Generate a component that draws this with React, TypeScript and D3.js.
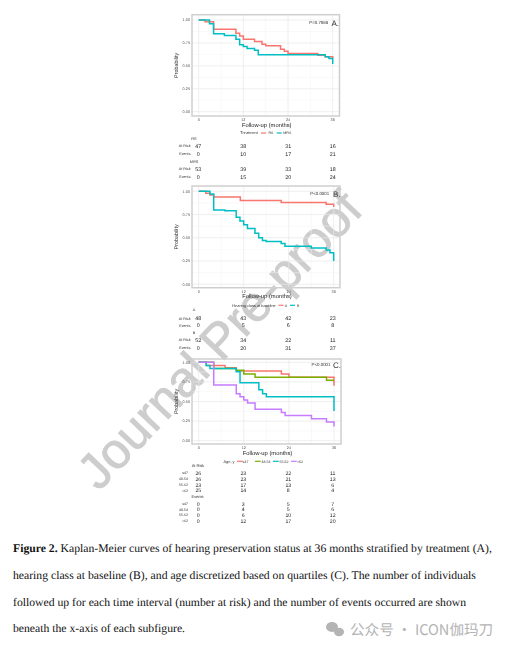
import React from "react";
import * as d3 from "d3";

const xTicks = [0, 12, 24, 36];
const yTicks = [0, 0.25, 0.5, 0.75, 1];
const RED = "#f8766d";
const TEAL = "#00bfc4";
const GREEN = "#7cae00";
const PURPLE = "#c77cff";

const aRsT = [0, 1.7, 4, 10, 11, 12, 15, 17, 18, 22, 23, 24, 32, 34, 36, 36];
const aRsS = [1, 0.98, 0.9, 0.855, 0.825, 0.79, 0.765, 0.735, 0.72, 0.68, 0.66, 0.635, 0.615, 0.6, 0.58, 0.58];
const aMrsT = [0, 2.9, 4, 6.9, 10, 11, 12, 13, 15, 16, 34, 35, 36, 36];
const aMrsS = [1, 0.96, 0.85, 0.83, 0.79, 0.73, 0.71, 0.69, 0.67, 0.62, 0.6, 0.58, 0.52, 0.52];

const bAT = [0, 1.9, 3, 4, 11.1, 22, 34, 36, 36];
const bAS = [1, 0.98, 0.96, 0.94, 0.9, 0.88, 0.86, 0.83, 0.83];
const bBT = [0, 3, 4, 7, 10, 11, 12, 13, 15, 16, 17, 18, 22, 23, 24, 30, 34, 35, 36, 36];
const bBS = [1, 0.97, 0.8, 0.79, 0.72, 0.68, 0.64, 0.6, 0.55, 0.5, 0.47, 0.46, 0.44, 0.41, 0.41, 0.39, 0.37, 0.34, 0.25, 0.25];

const cQ1T = [0, 2, 7, 10, 22, 24, 36, 36];
const cQ1S = [1, 0.96, 0.93, 0.89, 0.85, 0.81, 0.7, 0.7];
const cQ2T = [0, 4, 10, 12, 15, 34, 36];
const cQ2S = [1, 0.92, 0.9, 0.85, 0.81, 0.77, 0.77];
const cQ3T = [0, 2, 3, 10, 11, 16, 17, 18, 36, 36];
const cQ3S = [1, 0.96, 0.92, 0.88, 0.74, 0.65, 0.6, 0.56, 0.38, 0.38];
const cQ4T = [0, 4, 10, 11, 12, 13, 15, 22, 23, 30, 34, 36, 36];
const cQ4S = [1, 0.71, 0.6, 0.56, 0.52, 0.48, 0.4, 0.36, 0.32, 0.28, 0.24, 0.18, 0.18];

const tableA = [
  { label: "RS", rows: [["At Risk", 47, 38, 31, 16], ["Events", 0, 10, 17, 21]] },
  { label: "MRS", rows: [["At Risk", 53, 39, 33, 18], ["Events", 0, 15, 20, 24]] },
];
const tableB = [
  { label: "A", rows: [["At Risk", 48, 43, 42, 23], ["Events", 0, 5, 6, 8]] },
  { label: "B", rows: [["At Risk", 52, 34, 22, 11], ["Events", 0, 20, 31, 37]] },
];
const ageLabels = ["≤47", "48-54", "55-62", ">62"];
const cAtRisk = [[26, 23, 22, 11], [26, 23, 21, 13], [23, 17, 13, 6], [25, 14, 8, 4]];
const cEvents = [[0, 3, 5, 7], [0, 4, 5, 6], [0, 6, 10, 12], [0, 12, 17, 20]];

const captionLines = [
  "Kaplan-Meier curves of hearing preservation status at 36 months stratified by treatment (A),",
  "hearing class at baseline (B), and age discretized based on quartiles (C). The number of individuals",
  "followed up for each time interval (number at risk) and the number of events occurred are shown",
  "beneath the x-axis of each subfigure.",
];

const SANS = "Liberation Sans, Arial, sans-serif";

type S = { t: number[]; s: number[]; c: string };
type P = { l: number; r: number; top: number; bot: number; x0: number; x36: number; y1: number; y0: number; p: string; tag: string; pdx: number; tdx: number; series: S[] };

function Panel({ l, r, top, bot, x0, x36, y1, y0, p, tag, pdx, tdx, series }: P) {
  const x = d3.scaleLinear().domain([0, 36]).range([x0, x36]);
  const y = d3.scaleLinear().domain([0, 1]).range([y0, y1]);
  const minor = [6, 18, 30];
  const minorY = [0.125, 0.375, 0.625, 0.875];
  return (
    <g>
      {minor.map((m) => <line key={m} x1={x(m)} x2={x(m)} y1={top} y2={bot} stroke="#f3f3f3" strokeWidth={0.5} />)}
      {minorY.map((m) => <line key={m} x1={l} x2={r} y1={y(m)} y2={y(m)} stroke="#f3f3f3" strokeWidth={0.5} />)}
      {xTicks.map((m) => <line key={m} x1={x(m)} x2={x(m)} y1={top} y2={bot} stroke="#e8e8e8" strokeWidth={0.7} />)}
      {yTicks.map((m) => <line key={m} x1={l} x2={r} y1={y(m)} y2={y(m)} stroke="#e8e8e8" strokeWidth={0.7} />)}
      {series.map((ser, i) => {
        const d = d3.line<number>().x((_, k) => x(ser.t[k])).y((v) => y(v)).curve(d3.curveStepAfter)(ser.s) as string;
        return <path key={i} d={d} fill="none" stroke={ser.c} strokeWidth={1.5} />;
      })}
      <rect x={l} y={top} width={r - l} height={bot - top} fill="none" stroke="#cfcfcf" strokeWidth={1.5} />
      {xTicks.map((m) => <text key={m} x={x(m)} y={bot + 5} fontSize={3.8} textAnchor="middle" fill="#555">{m}</text>)}
      {yTicks.map((m) => <text key={m} x={l - 2} y={y(m) + 1.2} fontSize={3.8} textAnchor="end" fill="#555">{m.toFixed(2)}</text>)}
      <text transform={`translate(${l - 14},${(top + bot) / 2}) rotate(-90)`} fontSize={5.4} textAnchor="middle" fill="#333">Probability</text>
      <text x={(l + r) / 2 + 1} y={bot + 10.5} fontSize={5.8} textAnchor="middle" fill="#222">Follow-up (months)</text>
      <text x={x36 + pdx} y={y1 + 3.5} fontSize={4.4} textAnchor="middle" fill="#333">{p}</text>
      <text x={x36 + tdx} y={y1 + 5.5} fontSize={8} textAnchor="middle" fill="#333">{tag}</text>
    </g>
  );
}

function RiskTable({ groups, ys, xs }: { groups: typeof tableA; ys: number[]; xs: number[] }) {
  let k = 0;
  return (
    <g>
      {groups.map((g, gi) => {
        const titleY = ys[k++];
        return (
          <g key={gi}>
            <text x={194} y={titleY + 1.2} fontSize={3.8} textAnchor="middle" fill="#333">{g.label}</text>
            {g.rows.map((row, ri) => {
              const ry = ys[k++];
              return (
                <g key={ri}>
                  <text x={190.5} y={ry + 1.2} fontSize={3.7} textAnchor="end" fill="#333">{row[0]}</text>
                  {row.slice(1).map((v, i) => <text key={i} x={xs[i]} y={ry + 1.9} fontSize={5.3} textAnchor="middle" fill="#222">{v}</text>)}
                </g>
              );
            })}
          </g>
        );
      })}
    </g>
  );
}

function Legend({ y, title, titleX, items }: { y: number; title: string; titleX: number; items: { x1: number; x2: number; tx: number; c: string; label: string }[] }) {
  return (
    <g>
      <text x={titleX} y={y + 1.3} fontSize={3.9} textAnchor="middle" fill="#333">{title}</text>
      {items.map((it) => (
        <g key={it.label}>
          <line x1={it.x1} x2={it.x2} y1={y} y2={y} stroke={it.c} strokeWidth={1.2} />
          <text x={it.tx} y={y + 1.2} fontSize={3.6} textAnchor="middle" fill="#333">{it.label}</text>
        </g>
      ))}
    </g>
  );
}

export default function App() {
  const xsA = [198.3, 243.3, 288.3, 332.7];
  const cRows = (rows: number[][], ys: number[]) =>
    rows.map((row, ri) => (
      <g key={ri}>
        <text x={188} y={ys[ri] + 1.2} fontSize={3.5} textAnchor="end" fill="#333">{ageLabels[ri]}</text>
        {row.map((v, i) => <text key={i} x={xsA[i]} y={ys[ri] + 1.9} fontSize={5.2} textAnchor="middle" fill="#222">{v}</text>)}
      </g>
    ));
  return (
    <svg width={509} height={651} style={{ position: "absolute", left: 0, top: 0, background: "#fff", textRendering: "geometricPrecision" }} fontFamily={SANS}>
      <defs>
        <filter id="soft" x="-2%" y="-2%" width="104%" height="104%">
          <feGaussianBlur stdDeviation={0.35} />
        </filter>
      </defs>

      <text transform="translate(99,492) rotate(-46.5)" fontSize={50} fill="#cdcdcd" stroke="#cdcdcd" strokeWidth={0.8} fontFamily="Liberation Sans, Arial, sans-serif">Journal Pre-proof</text>

      <g filter="url(#soft)">
        <Panel l={192} r={339.5} top={14.7} bot={116} x0={198.7} x36={332.7} y1={20} y0={111.7} p="P=0.7988" tag="A." pdx={-14} tdx={2.5} series={[
          { t: aRsT, s: aRsS, c: RED }, { t: aMrsT, s: aMrsS, c: TEAL },
        ]} />
        <Legend y={133} title="Treatment" titleX={249} items={[
          { x1: 261, x2: 266, tx: 271, c: RED, label: "RS" },
          { x1: 276.7, x2: 281.7, tx: 287.3, c: TEAL, label: "MRS" },
        ]} />
        <RiskTable groups={tableA} ys={[138.5, 146, 154, 161.5, 169, 177]} xs={xsA} />

        <Panel l={192} r={340} top={186} bot={287.7} x0={198.7} x36={333.7} y1={191.3} y0={284.3} p="P<0.0001" tag="B." pdx={-14} tdx={3} series={[
          { t: bAT, s: bAS, c: RED }, { t: bBT, s: bBS, c: TEAL },
        ]} />
        <Legend y={305.3} title="Hearing class at baseline" titleX={254} items={[
          { x1: 278.5, x2: 283.5, tx: 286, c: RED, label: "A" },
          { x1: 290, x2: 295, tx: 298.3, c: TEAL, label: "B" },
        ]} />
        <RiskTable groups={tableB} ys={[310, 318.3, 325.3, 333, 340, 348]} xs={xsA} />

        <Panel l={192} r={341} top={359} bot={444} x0={198.7} x36={334} y1={362.3} y0={440.7} p="P<0.0001" tag="C." pdx={-13} tdx={3} series={[
          { t: cQ1T, s: cQ1S, c: RED }, { t: cQ2T, s: cQ2S, c: GREEN }, { t: cQ3T, s: cQ3S, c: TEAL }, { t: cQ4T, s: cQ4S, c: PURPLE },
        ]} />
        <Legend y={461.3} title="Age, y" titleX={229} items={[
          { x1: 237, x2: 242.5, tx: 245.5, c: RED, label: ageLabels[0] },
          { x1: 255, x2: 260.7, tx: 266, c: GREEN, label: ageLabels[1] },
          { x1: 273, x2: 278.7, tx: 284, c: TEAL, label: ageLabels[2] },
          { x1: 291, x2: 296.7, tx: 300, c: PURPLE, label: ageLabels[3] },
        ]} />
        <text x={198} y={467.4} fontSize={4} textAnchor="middle" fill="#333">At Risk</text>
        {cRows(cAtRisk, [473, 479, 485, 490.5])}
        <text x={197.5} y={498} fontSize={4} textAnchor="middle" fill="#333">Events</text>
        {cRows(cEvents, [503.7, 509.3, 515, 520.7])}
      </g>

      <g fontFamily="Liberation Serif, Times New Roman, serif" fontSize={11.7} fill="#111">
        <text x={13} y={552}><tspan fontWeight="bold">Figure 2.</tspan> {captionLines[0]}</text>
        <text x={13} y={579}>{captionLines[1]}</text>
        <text x={13} y={606}>{captionLines[2]}</text>
        <text x={13} y={632}>{captionLines[3]}</text>
      </g>

      <g fill="#b4b4b4">
        <ellipse cx={332} cy={627} rx={6} ry={5} />
        <ellipse cx={339} cy={632} rx={5} ry={4.2} />
      </g>
      <text x={350} y={635} fontSize={14.6} fill="#b4b4b4" fontFamily="Noto Sans CJK SC, sans-serif">公众号 · ICON伽玛刀</text>
    </svg>
  );
}
